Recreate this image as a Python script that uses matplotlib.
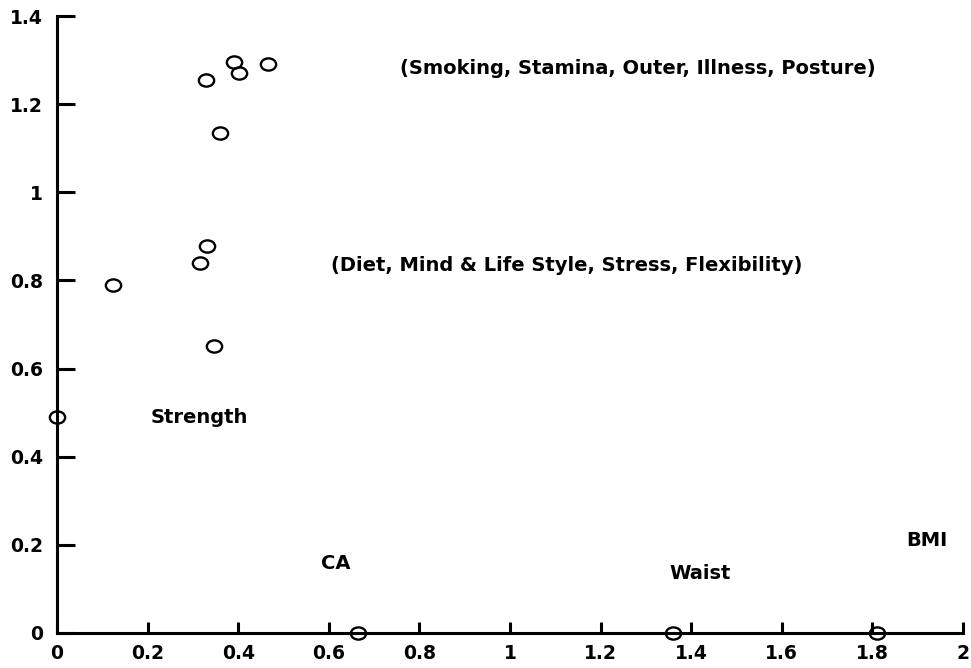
import matplotlib
matplotlib.use('Agg')
import matplotlib.pyplot as plt
from matplotlib.path import Path
from matplotlib.transforms import Affine2D

plt.rcParams['font.family'] = ['DejaVu Sans']
plt.rcParams['font.weight'] = 'bold'

# point coordinates
x_vals = [0.0, 0.124, 0.316, 0.331, 0.347, 0.329, 0.360, 0.391, 0.402, 0.466, 0.664, 1.36, 1.81]
y_vals = [0.49, 0.79, 0.839, 0.878, 0.651, 1.255, 1.134, 1.296, 1.271, 1.291, 0.0, 0.0, 0.0]

# text labels and where they sit (left edge, vertical centre)
labels = ['(Smoking, Stamina, Outer, Illness, Posture)',
          '(Diet, Mind & Life Style, Stress, Flexibility)',
          'Strength', 'CA', 'Waist', 'BMI']
label_x = [0.757, 0.605, 0.207, 0.583, 1.351, 1.874]
label_y = [1.28, 0.835, 0.488, 0.157, 0.136, 0.209]

x_ticks = [0, 0.2, 0.4, 0.6, 0.8, 1, 1.2, 1.4, 1.6, 1.8, 2]
y_ticks = [0, 0.2, 0.4, 0.6, 0.8, 1, 1.2, 1.4]

# slightly flattened open circle
ellipse = Path.unit_circle().transformed(Affine2D().scale(1.0, 0.8))

fig = plt.figure(figsize=(9.71, 6.68), dpi=100)
ax = fig.add_axes([0.0587, 0.0524, 0.9331, 0.9236])

ax.plot(x_vals, y_vals, linestyle='none', marker=ellipse, markersize=11,
        markerfacecolor='none', markeredgecolor='black', markeredgewidth=1.7,
        clip_on=False, zorder=3)

for txt, tx, ty in zip(labels, label_x, label_y):
    ax.text(tx, ty, txt, ha='left', va='center', fontsize=14, fontweight='bold')

ax.set_xlim(0, 2)
ax.set_ylim(0, 1.4)
ax.set_xticks(x_ticks)
ax.set_yticks(y_ticks)
ax.set_xticklabels(['%g' % v for v in x_ticks])
ax.set_yticklabels(['%g' % v for v in y_ticks])

ax.spines['top'].set_visible(False)
ax.spines['right'].set_visible(False)
ax.spines['left'].set_linewidth(2.2)
ax.spines['bottom'].set_linewidth(2.2)
ax.tick_params(axis='y', direction='in', length=13, width=2.2, pad=10, labelsize=13.5)
ax.tick_params(axis='x', direction='in', length=8, width=2.2, pad=8, labelsize=13.5)
for lbl in ax.get_xticklabels() + ax.get_yticklabels():
    lbl.set_fontweight('bold')

fig.savefig('out.png', dpi=100)
